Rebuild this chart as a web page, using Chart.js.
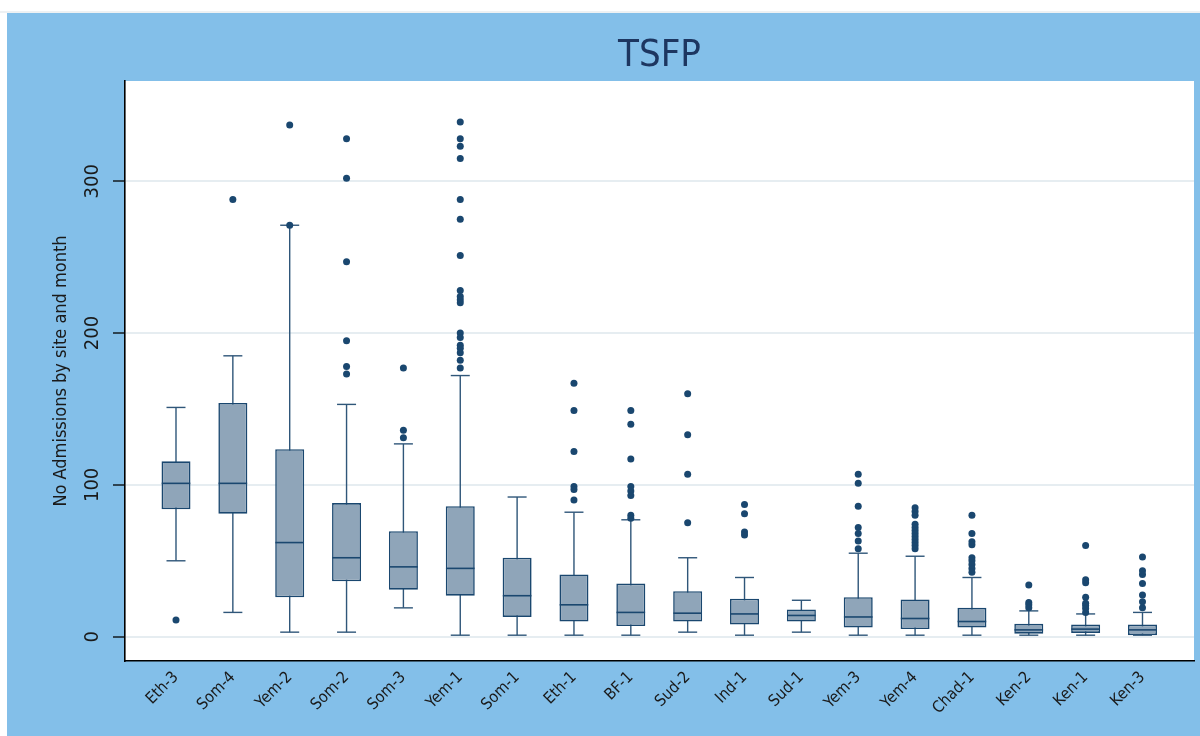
<!DOCTYPE html>
<html>
<head>
<meta charset="utf-8">
<script src="https://cdn.jsdelivr.net/npm/chart.js@4.4.1/dist/chart.umd.min.js"></script>
<style>
  html, body { margin: 0; padding: 0; background: #ffffff; }
  canvas { display: block; }
</style>
</head>
<body>
<canvas id="chart" width="1200" height="736"></canvas>
<script>
// Monthly TSFP admissions per site: box plot summary
const titleText = 'TSFP';
const yAxisTitle = 'No Admissions by site and month';

const sites = ['Eth-3', 'Som-4', 'Yem-2', 'Som-2', 'Som-3', 'Yem-1', 'Som-1', 'Eth-1', 'BF-1',
               'Sud-2', 'Ind-1', 'Sud-1', 'Yem-3', 'Yem-4', 'Chad-1', 'Ken-2', 'Ken-1', 'Ken-3'];

const yTicks = [0, 100, 200, 300];

const lowerWhisker = [50, 16, 3, 3, 19, 1, 1, 1, 1, 3, 1, 3, 1, 1, 1, 1, 1, 1];
const q1           = [84, 81, 26, 36.5, 31, 27, 13, 10, 7, 10, 8, 10, 6, 5, 6, 2, 2.5, 1];
const median       = [101, 101, 62, 52, 46, 45, 27, 21, 16, 15.5, 15, 14, 13, 12, 10, 4.5, 5, 4.5];
const q3           = [115.5, 154, 123.5, 88, 69.5, 86, 52, 41, 35, 30, 25, 18, 26, 24.5, 19, 8.5, 8, 8];
const upperWhisker = [151, 185, 271, 153, 127, 172, 92, 82, 77, 52, 39, 24, 55, 53, 39, 17, 15, 16];

const outliers = [
  [11],
  [288],
  [337, 271],
  [328, 302, 247, 195, 178, 173],
  [177, 136, 131],
  [339, 328, 323, 315, 288, 275, 251, 228, 224, 222, 220, 200, 197, 192, 190, 187, 182, 177],
  [],
  [167, 149, 122, 99, 97, 90],
  [149, 140, 117, 99, 96, 93, 80, 78],
  [160, 133, 107, 75],
  [87, 81, 69, 67],
  [],
  [107, 101, 86, 72, 68, 63, 58],
  [85, 82.5, 80, 74, 72, 70, 68, 66, 64, 62, 60, 58],
  [80, 68, 62.5, 60.5, 52, 50, 47.5, 45, 42.5],
  [34, 22.5, 21, 19],
  [60, 37.5, 35.5, 26, 22, 20.5, 18.5, 16],
  [52.5, 43.5, 41, 35, 27.5, 23, 19]
];

const FONT = "'Liberation Sans Narrow', 'DejaVu Sans Condensed', 'Roboto Condensed', 'Open Sans', sans-serif";
const NAVY = '#1a476f';
const WHISKER = '#2f5679';
const BOX_FILL = '#8fa5b9';
const OUTER_BG = '#83bfe9';

// Derived point sets for the chart layers
const boxes = sites.map((s, i) => ({ x: i, y: [q1[i], q3[i]] }));
const medians = sites.map((s, i) => ({ x: i, y: median[i] }));
const whiskerPath = [];
sites.forEach((s, i) => {
  whiskerPath.push({ x: i, y: lowerWhisker[i] }, { x: i, y: upperWhisker[i] }, { x: i, y: null });
});
const caps = sites.flatMap((s, i) => [{ x: i, y: lowerWhisker[i] }, { x: i, y: upperWhisker[i] }]);
const outlierPoints = outliers.flatMap((vals, i) => vals.map(v => ({ x: i, y: v })));

// Page frame: light strip, blue outer region, white plot region
const framePlugin = {
  id: 'frame',
  beforeDraw(chart) {
    const { ctx, chartArea: a } = chart;
    ctx.save();
    ctx.fillStyle = '#ffffff';
    ctx.fillRect(0, 0, chart.width, chart.height);
    ctx.fillStyle = '#eef1f3';
    ctx.fillRect(0, 11, chart.width, 2);
    ctx.fillStyle = OUTER_BG;
    ctx.fillRect(7, 13, chart.width - 7, chart.height - 13);
    ctx.fillStyle = '#ffffff';
    ctx.fillRect(a.left, a.top, a.right - a.left, a.bottom - a.top);
    ctx.restore();
  }
};

// Title centred over the plot region
const plotTitlePlugin = {
  id: 'plotTitle',
  afterDraw(chart) {
    const { ctx, chartArea: a } = chart;
    ctx.save();
    ctx.font = `38px ${FONT}`;
    ctx.fillStyle = '#1d3660';
    ctx.textAlign = 'center';
    ctx.textBaseline = 'middle';
    ctx.fillText(titleText, (a.left + a.right) / 2, 56);
    ctx.restore();
  }
};

new Chart(document.getElementById('chart'), {
  type: 'bar',
  data: {
    datasets: [
      {
        type: 'line',
        data: whiskerPath,
        borderColor: WHISKER,
        borderWidth: 1.4,
        pointRadius: 0,
        spanGaps: false,
        order: 4
      },
      {
        type: 'bar',
        data: boxes,
        backgroundColor: BOX_FILL,
        borderColor: NAVY,
        borderWidth: 1.6,
        borderSkipped: false,
        grouped: false,
        maxBarThickness: 29,
        order: 3
      },
      {
        type: 'scatter',
        data: medians,
        pointStyle: 'line',
        pointRadius: 14.3,
        borderColor: NAVY,
        pointBorderWidth: 1.6,
        order: 2
      },
      {
        type: 'scatter',
        data: caps,
        pointStyle: 'line',
        pointRadius: 9.5,
        borderColor: WHISKER,
        pointBorderWidth: 1.4,
        order: 2
      },
      {
        type: 'scatter',
        data: outlierPoints,
        pointStyle: 'circle',
        pointRadius: 3.5,
        backgroundColor: NAVY,
        borderWidth: 0,
        pointBorderWidth: 0,
        order: 1
      }
    ]
  },
  options: {
    responsive: false,
    animation: false,
    events: [],
    devicePixelRatio: 1,
    layout: { autoPadding: false, padding: { top: 81, right: 6, left: 0, bottom: 0 } },
    plugins: {
      legend: { display: false },
      tooltip: { enabled: false },
      title: { display: false }
    },
    scales: {
      x: {
        type: 'linear',
        offset: false,
        min: -0.897,
        max: 17.906,
        afterBuildTicks: scale => { scale.ticks = sites.map((s, i) => ({ value: i })); },
        afterFit: scale => {
          scale.height = 75;
          scale.paddingLeft = 0;
          scale.paddingRight = 0;
        },
        grid: { display: false, drawTicks: false, offset: false },
        border: { display: true, color: '#000000', width: 1.6 },
        ticks: {
          autoSkip: false,
          minRotation: 45,
          maxRotation: 45,
          padding: 7,
          color: '#1a1a1a',
          font: { family: FONT, size: 16 },
          callback: value => sites[value]
        }
      },
      y: {
        type: 'linear',
        min: -16,
        max: 366,
        afterBuildTicks: scale => { scale.ticks = yTicks.map(v => ({ value: v })); },
        afterFit: scale => {
          scale.width = 125;
          scale.paddingTop = 0;
          scale.paddingBottom = 0;
        },
        grid: {
          color: '#e6edf1',
          lineWidth: 2,
          drawTicks: true,
          tickLength: 12,
          tickColor: '#000000',
          tickWidth: 1.3
        },
        border: { display: true, color: '#000000', width: 1.6 },
        ticks: {
          minRotation: 90,
          maxRotation: 90,
          crossAlign: 'center',
          padding: 3,
          color: '#1a1a1a',
          font: { family: FONT, size: 20 }
        },
        title: {
          display: true,
          text: yAxisTitle,
          color: '#1a1a1a',
          font: { family: FONT, size: 18 },
          padding: { top: 51, bottom: 0 }
        }
      }
    }
  },
  plugins: [framePlugin, plotTitlePlugin]
});
</script>
</body>
</html>
